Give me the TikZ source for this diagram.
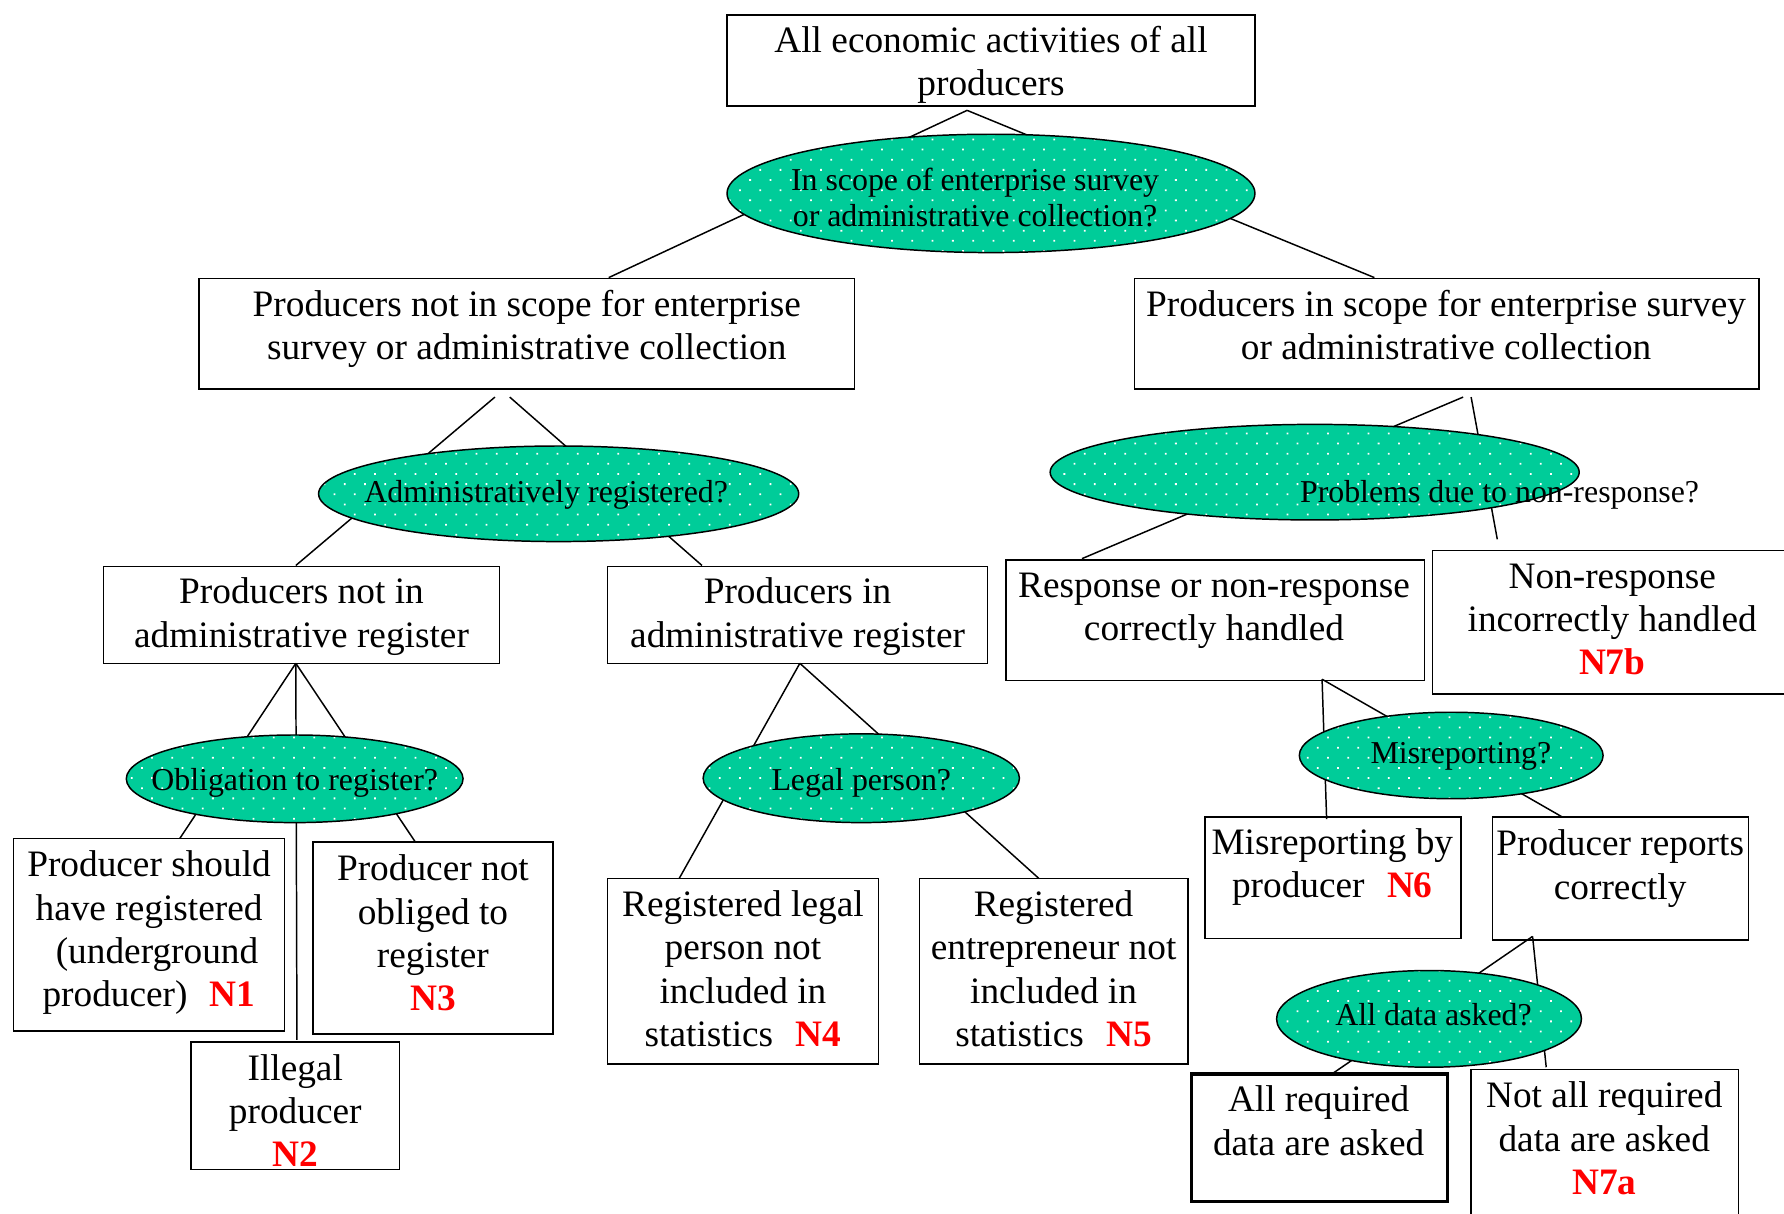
\documentclass[tikz,border=0pt]{standalone}
\usepackage{fontspec}
\setmainfont{Liberation Serif}
\usetikzlibrary{shapes.geometric,patterns.meta}
\definecolor{ellgreen}{RGB}{0,204,153}
\definecolor{nred}{RGB}{255,0,0}
\newcommand\NL[1]{\textcolor{nred}{\textbf{#1}}}
\begin{document}
\begin{tikzpicture}[x=1pt,y=-1pt,
  box/.style={draw, line width=1.3pt, fill=white, rectangle, inner sep=0pt},
  thickbox/.style={box, line width=2.8pt},
  ell/.style={ellipse, draw, line width=1.3pt, inner sep=0pt,
    preaction={fill=ellgreen},
    pattern={Dots[radius=1.1pt, distance=12.6pt, angle=45]}, pattern color=white},
  btxt/.style={align=center, inner sep=0pt, font=\fontsize{32.8pt}{38pt}\selectfont,
    execute at begin node=\strut, execute at end node=\strut},
  etxt/.style={align=center, inner sep=0pt, font=\fontsize{28pt}{32pt}\selectfont,
    execute at begin node=\strut, execute at end node=\strut},
  conn/.style={line width=1.3pt}]
\path[use as bounding box] (0,0) rectangle (1568,1067);
\clip (0,0) rectangle (1568,1067);

% boxes
\node[box, minimum width=464pt, minimum height=80pt] (top) at (871,53) {};
\node[box, minimum width=576pt, minimum height=97pt] (L1) at (463,293.5) {};
\node[box, minimum width=549pt, minimum height=97pt] (R1) at (1271.5,293.5) {};
\node[box, minimum width=348pt, minimum height=85pt] (NAR) at (265,540.5) {};
\node[box, minimum width=334pt, minimum height=85pt] (AR) at (701,540.5) {};
\node[box, minimum width=238pt, minimum height=169pt] (N1) at (131,821.5) {};
\node[box, minimum width=183pt, minimum height=112pt] (N2) at (259.5,972) {};
\node[box, minimum width=211pt, minimum height=169pt] (N3) at (380.5,824.5) {};
\node[box, minimum width=238pt, minimum height=163pt] (N4) at (653,853.5) {};
\node[box, minimum width=236pt, minimum height=163pt] (N5) at (926,853.5) {};
\node[box, minimum width=368pt, minimum height=106pt] (RC) at (1068,545) {};
\node[box, minimum width=321pt, minimum height=126pt] (N7b) at (1419.5,547) {};
\node[box, minimum width=225pt, minimum height=107pt] (N6) at (1171.5,771.5) {};
\node[box, minimum width=225pt, minimum height=108pt] (PR) at (1424.5,772) {};
\node[thickbox, minimum width=225pt, minimum height=112pt] (AD) at (1159.5,1000) {};
\node[box, minimum width=235pt, minimum height=140pt] (N7a) at (1410.5,1010) {};

% connector end points
\coordinate (a0) at (850,97);
\coordinate (aL1) at (535,244);
\coordinate (aR1) at (1208,244);
\coordinate (b0) at (435,349);
\coordinate (b1) at (448,349);
\coordinate (bNAR) at (260,497);
\coordinate (bAR) at (617,497);
\coordinate (c0) at (260,583);
\coordinate (cN1) at (158,737);
\coordinate (cN2) at (261,914);
\coordinate (cN3) at (365,740);
\coordinate (d0) at (703,583);
\coordinate (dN4) at (597,772);
\coordinate (dN5) at (913,772);
\coordinate (e0) at (1286,349);
\coordinate (e1) at (1293,349);
\coordinate (eRC) at (951,491);
\coordinate (eN7b) at (1316,474);
\coordinate (f0) at (1162,597);
\coordinate (fN6) at (1166,720);
\coordinate (fPR) at (1373,718);
\coordinate (g0) at (1347,823);
\coordinate (gAD) at (1172,943);
\coordinate (gN7a) at (1359,938);

% connectors
\draw[conn] (a0) -- (aL1);
\draw[conn] (a0) -- (aR1);
\draw[conn] (b0) -- (bNAR);
\draw[conn] (b1) -- (bAR);
\draw[conn] (c0) -- (cN1);
\draw[conn] (c0) -- (cN2);
\draw[conn] (c0) -- (cN3);
\draw[conn] (d0) -- (dN4);
\draw[conn] (d0) -- (dN5);
\draw[conn] (e0) -- (eRC);
\draw[conn] (e1) -- (eN7b);
\draw[conn] (f0) -- (fN6);
\draw[conn] (f0) -- (fPR);
\draw[conn] (g0) -- (gAD);
\draw[conn] (g0) -- (gN7a);

% ellipses
\node[ell, minimum width=464pt, minimum height=104pt] (E1) at (871,170) {};
\node[ell, minimum width=422pt, minimum height=84pt] (E2) at (491,434) {};
\node[ell, minimum width=296pt, minimum height=77pt] (E3) at (259,684.5) {};
\node[ell, minimum width=278pt, minimum height=78pt] (E4) at (757,684) {};
\node[ell, minimum width=465pt, minimum height=84pt] (E5) at (1155.5,415) {};
\node[ell, minimum width=267pt, minimum height=76pt] (E6) at (1275.5,664) {};
\node[ell, minimum width=268pt, minimum height=85pt] (E7) at (1256,895.5) {};

% texts
\node[btxt] (t0) at (871,59) {All economic activities of all\\producers};
\node[etxt] (tE1) at (857,178) {In scope of enterprise survey\\or administrative collection?};
\node[btxt] (tL1) at (463,291) {Producers not in scope for enterprise\\survey or administrative collection};
\node[btxt] (tR1) at (1271,291) {Producers in scope for enterprise survey\\or administrative collection};
\node[etxt] (tE2) at (480,435) {Administratively registered?};
\node[btxt] (tNAR) at (265,544) {Producers not in\\administrative register};
\node[btxt] (tAR) at (701,544) {Producers in\\administrative register};
\node[etxt] (tE3) at (259,688) {Obligation to register?};
\node[etxt] (tE4) at (757,688) {Legal person?};
\node[btxt] (tN1) at (131,822) {Producer should\\have registered\\\hspace*{14pt}(underground\\producer)\hspace{0.6em}\NL{N1}};
\node[btxt] (tN2) at (259.5,982) {Illegal\\producer\\\NL{N2}};
\node[btxt] (tN3) at (380.5,825.5) {Producer not\\obliged to\\register\\\NL{N3}};
\node[btxt] (tN4) at (653,857) {Registered legal\\person not\\included in\\statistics\hspace{0.6em}\NL{N4}};
\node[btxt] (tN5) at (926,857) {Registered\\entrepreneur not\\included in\\statistics\hspace{0.6em}\NL{N5}};
\node[btxt] (tRC) at (1067,539) {Response or non-response\\correctly handled};
\node[btxt] (tN7b) at (1417,550) {Non-response\\incorrectly handled\\\NL{N7b}};
\node[etxt] (tE5) at (1318,435) {Problems due to non-response?};
\node[etxt] (tE6) at (1284,665) {Misreporting?};
\node[btxt] (tN6) at (1171,764.5) {Misreporting by\\producer\hspace{0.6em}\NL{N6}};
\node[btxt] (tPR) at (1424,765.5) {Producer reports\\correctly};
\node[etxt] (tE7) at (1260,895) {All data asked?};
\node[btxt] (tAD) at (1159,990.5) {All required\\data are asked};
\node[btxt] (tN7a) at (1410,1006) {Not all required\\data are asked\\\NL{N7a}};
\end{tikzpicture}
\end{document}
